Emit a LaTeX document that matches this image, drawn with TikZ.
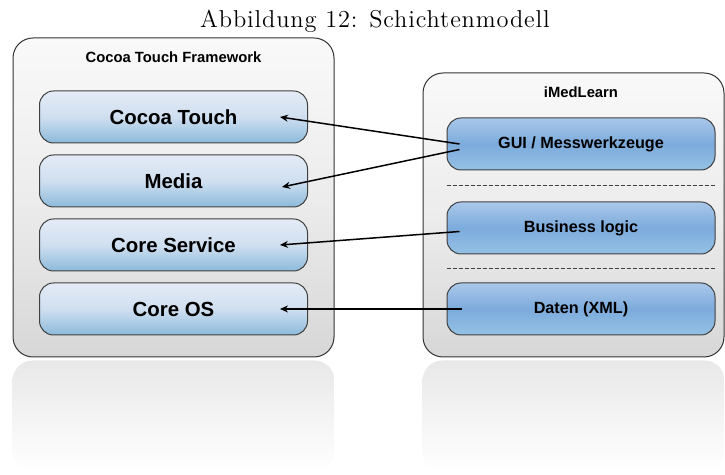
\documentclass[tikz,border=0pt]{standalone}
\usepackage{fontspec}
\setsansfont{Liberation Sans}
\newfontfamily\capfont[LetterSpace=3.5]{Latin Modern Roman}
\usetikzlibrary{positioning,calc,arrows.meta}
\definecolor{framehi}{HTML}{F9F9F9}
\definecolor{framemid}{HTML}{EBECEB}
\definecolor{framelo}{HTML}{D6D7D6}
\definecolor{layerhi}{HTML}{E3EBF6}
\definecolor{layermid}{HTML}{D0DFF0}
\definecolor{layerlo}{HTML}{8BBADB}
\definecolor{apphi}{HTML}{AAC8EA}
\definecolor{appmid}{HTML}{7CABDC}
\definecolor{applo}{HTML}{95C1E4}
\tikzstyle{framebox}=[rectangle, rounded corners=10pt, draw=black!80, line width=0.5pt,
 top color=framehi, bottom color=framelo, middle color=framemid, inner sep=0pt]
\tikzstyle{layerbox}=[rectangle, rounded corners=7pt, draw=black!75, line width=0.5pt,
 top color=layerhi, bottom color=layerlo, middle color=layermid,
 minimum width=134pt, minimum height=26pt, inner sep=0pt,
 font=\sffamily\bfseries\fontsize{10.2}{12}\selectfont]
\tikzstyle{appbox}=[rectangle, rounded corners=7pt, draw=black!75, line width=0.5pt,
 top color=apphi, bottom color=applo, middle color=appmid,
 minimum width=134pt, minimum height=26pt, inner sep=0pt,
 font=\sffamily\bfseries\fontsize{8.1}{10}\selectfont]
\tikzstyle{head}=[inner sep=0pt, font=\sffamily\bfseries\fontsize{7.4}{9}\selectfont]
\tikzstyle{captext}=[anchor=base, inner sep=0pt,
 font=\capfont\fontsize{12.2}{14}\selectfont]
\tikzstyle{link}=[{Stealth[length=4pt,width=3.5pt]}-, line width=0.75pt]
\tikzstyle{sepline}=[-, line width=0.5pt, black!75, dash pattern=on 2pt off 1pt]
\tikzstyle{mirror}=[rounded corners=10pt, top color=black!9, bottom color=white]

\begin{document}
\begin{tikzpicture}[node distance=0mm]
\useasboundingbox (0,0) rectangle (362.5pt,-237.5pt);

\node (title) [captext] at (187.5pt,-13.85pt) {Abbildung 12: Schichtenmodell};

% framework
\node (ctframe) [framebox, minimum width=160.5pt, minimum height=159.5pt] at (86.75pt,-98.75pt) {};
\node (cthead) [head] at ([yshift=-10pt]ctframe.north) {Cocoa Touch Framework};
\node (cocoa) [layerbox, below=26.5pt of ctframe.north] {Cocoa Touch};
\node (media) [layerbox, below=5.5pt of cocoa] {Media};
\node (coresrv) [layerbox, below=5.5pt of media] {Core Service};
\node (coreos) [layerbox, below=5.5pt of coresrv] {Core OS};

% app
\node (imed) [framebox, minimum width=150.5pt, minimum height=142pt] at (286.75pt,-107.5pt) {};
\node (imedhead) [head] at ([xshift=3.75pt,yshift=-10pt]imed.north) {iMedLearn};
\node (gui) [appbox, below=22.5pt of imed.north, xshift=3.75pt] {GUI / Messwerkzeuge};
\node (bizlogic) [appbox, below=15.5pt of gui] {Business logic};
\node (daten) [appbox, below=14pt of bizlogic] {Daten (XML)};

\coordinate (sep1) at ($(gui.south)!0.5!(bizlogic.north)$);
\coordinate (sep2) at ($(bizlogic.south)!0.5!(daten.north)$);
\draw[sepline] (sep1 -| gui.west) -- (sep1 -| gui.east);
\draw[sepline] (sep2 -| gui.west) -- (sep2 -| gui.east);

% reflections
\shade[mirror] ([yshift=-1.5pt]ctframe.south west) rectangle ([yshift=-57pt]ctframe.south east);
\shade[mirror] ([yshift=-1.5pt]imed.south west) rectangle ([yshift=-57pt]imed.south east);

% arrows
\coordinate (ctin) at ([xshift=-14pt]cocoa.east);
\coordinate (mediain) at ([xshift=-13pt,yshift=-3pt]media.east);
\coordinate (srvin) at ([xshift=-14pt]coresrv.east);
\coordinate (osin) at ([xshift=-14pt]coreos.east);
\coordinate (guiout) at ([xshift=6.5pt]gui.west);
\coordinate (guiout2) at ([xshift=6.5pt,yshift=-2.75pt]gui.west);
\coordinate (bizout) at ([xshift=6.5pt,yshift=-1.75pt]bizlogic.west);
\coordinate (datenout) at ([xshift=7.5pt]daten.west);

\draw[link] (ctin) -- (guiout);
\draw[link] (mediain) -- (guiout2);
\draw[link] (srvin) -- (bizout);
\draw[link] (osin) -- (datenout);

\end{tikzpicture}
\end{document}
